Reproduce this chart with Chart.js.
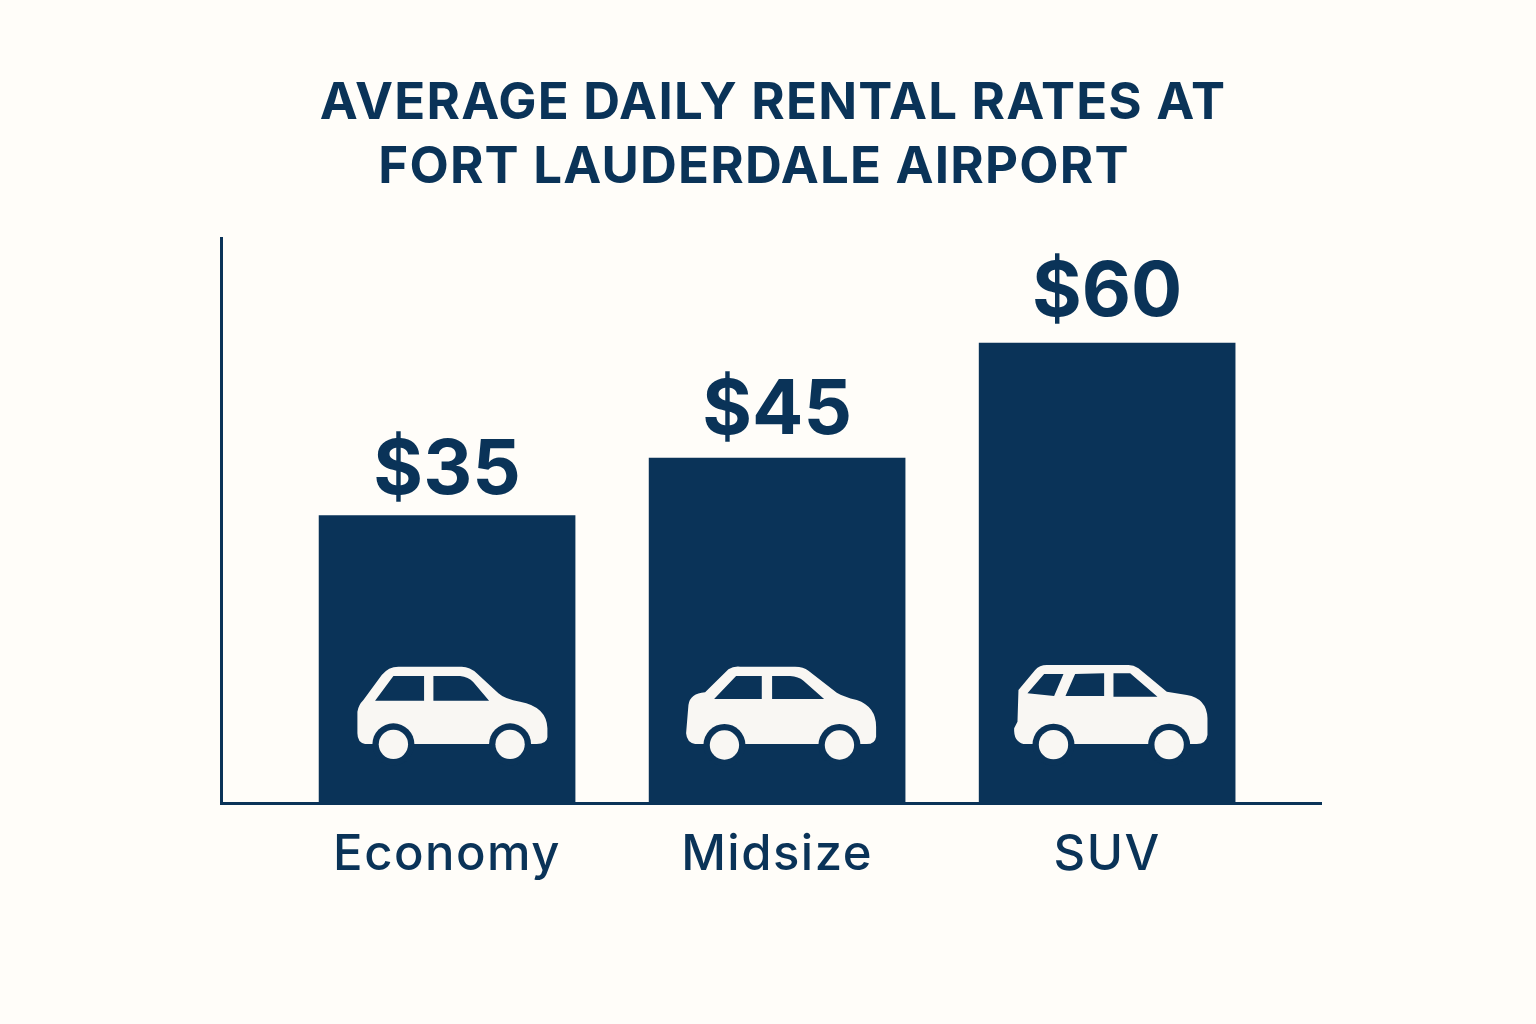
<!DOCTYPE html>
<html>
<head>
<meta charset="utf-8">
<title>Average daily rental rates</title>
<script src="https://cdn.jsdelivr.net/npm/chart.js@4/dist/chart.umd.min.js"></script>
<style>
  html, body { margin: 0; padding: 0; background: #fffdf9; }
  canvas { display: block; }
</style>
</head>
<body>
<canvas id="chart" width="1536" height="1024"></canvas>
<script>
// chart data
const categories = ['Economy', 'Midsize', 'SUV'];
const rateLabels = ['$35', '$45', '$60'];
// bar heights as drawn in the picture (the $35 bar is drawn a bit taller than its label says)
const barHeights = [37.5, 45, 60];
const titleLines = ['AVERAGE DAILY RENTAL RATES AT', 'FORT LAUDERDALE AIRPORT'];

const navy = '#0a3358';
const carWhite = '#f9f7f3';
const fontName = 'Inter, "Liberation Sans", sans-serif';
// space between a bar top and its value label
const labelGaps = [22, 24, 27];

// car icons, drawn in a 690x360 box, one per bar
const carIcons = [
    {
        body: 'M75 282Q52 278 52 250L52 185Q55 165 70 150L125 75Q145 50 175 50L365 50Q390 50 410 70L475 130Q495 148 540 155Q620 170 622 235L622 262Q620 282 590 282Z',
        windows: 'M105 152L160 78L252 78L252 152ZM280 78L360 78Q385 80 400 97L447 152L280 152Z',
        wheels: [[160, 283], [510, 283]]
    },
    {
        body: 'M75 282Q50 278 48 250L55 165Q60 130 105 127L175 58Q190 48 210 50L375 50Q400 50 415 62L500 128Q520 140 560 150Q618 170 618 230L618 260Q615 282 590 282Z',
        windows: 'M132 147L198 78L275 78L275 147ZM306 78L360 78Q385 80 400 92L462 147L306 147Z',
        wheels: [[163, 285], [508, 285]]
    },
    {
        body: 'M70 282Q40 275 42 235L52 215L55 120L105 60Q118 45 140 45L385 45Q400 45 415 55L500 125L560 135Q620 145 622 205L622 255Q618 282 590 282Z',
        windows: 'M82 130L132 72L190 72L162 138ZM196 138L225 72L312 70L312 138ZM340 70L390 70L472 140L340 140Z',
        wheels: [[160, 284], [507, 284]]
    }
];

// title, value labels and car icons
const extrasPlugin = {
    id: 'extras',
    beforeDraw(chart) {
        chart.ctx.letterSpacing = '1.5px';
    },
    afterDatasetsDraw(chart) {
        const ctx = chart.ctx;
        const bars = chart.getDatasetMeta(0).data;

        ctx.save();
        ctx.fillStyle = navy;
        ctx.textBaseline = 'alphabetic';
        ctx.textAlign = 'center';

        ctx.font = '700 51px ' + fontName;
        ctx.letterSpacing = '1.2px';
        ctx.fillText(titleLines[0], 773, 119);
        ctx.fillText(titleLines[1], 754, 183);

        ctx.font = '700 76px ' + fontName;
        ctx.letterSpacing = '0px';
        bars.forEach((bar, i) => {
            ctx.fillText(rateLabels[i], bar.x, bar.y - labelGaps[i]);
        });

        bars.forEach((bar, i) => {
            const icon = carIcons[i];
            ctx.save();
            ctx.translate(bar.x - 107, bar.base - 153);
            ctx.scale(1 / 3, 1 / 3);
            ctx.fillStyle = carWhite;
            ctx.fill(new Path2D(icon.body));
            ctx.fillStyle = navy;
            ctx.fill(new Path2D(icon.windows));
            icon.wheels.forEach(w => {
                ctx.fillStyle = navy;
                ctx.beginPath();
                ctx.arc(w[0], w[1], 63, 0, Math.PI * 2);
                ctx.fill();
                ctx.fillStyle = carWhite;
                ctx.beginPath();
                ctx.arc(w[0], w[1], 44, 0, Math.PI * 2);
                ctx.fill();
            });
            ctx.restore();
        });
        ctx.restore();
    }
};

function makeChart() {
    const ctx = document.getElementById('chart');

    new Chart(ctx, {
        type: 'bar',
        data: {
            datasets: [{
                data: barHeights.map((h, i) => ({ x: i, y: h })),
                backgroundColor: navy,
                borderWidth: 0,
                barThickness: 256
            }]
        },
        options: {
            responsive: false,
            animation: false,
            layout: {
                padding: { left: 221, right: 215, top: 238, bottom: 0 }
            },
            plugins: {
                legend: { display: false },
                title: { display: false },
                tooltip: { enabled: false }
            },
            scales: {
                x: {
                    type: 'linear',
                    offset: false,
                    min: -0.685,
                    max: 2.648,
                    grid: { display: false, drawTicks: false },
                    border: { color: navy, width: 3 },
                    ticks: {
                        stepSize: 1,
                        includeBounds: false,
                        autoSkip: false,
                        maxRotation: 0,
                        padding: 23,
                        color: navy,
                        font: { family: fontName, size: 49, weight: '500' },
                        callback: value => categories[value]
                    },
                    afterFit(scale) { scale.height = 221; }
                },
                y: {
                    min: 0,
                    max: 73.7,
                    grid: { display: false, drawTicks: false },
                    border: { color: navy, width: 3 },
                    ticks: { display: false }
                }
            }
        },
        plugins: [extrasPlugin]
    });
}

makeChart();
</script>
</body>
</html>
